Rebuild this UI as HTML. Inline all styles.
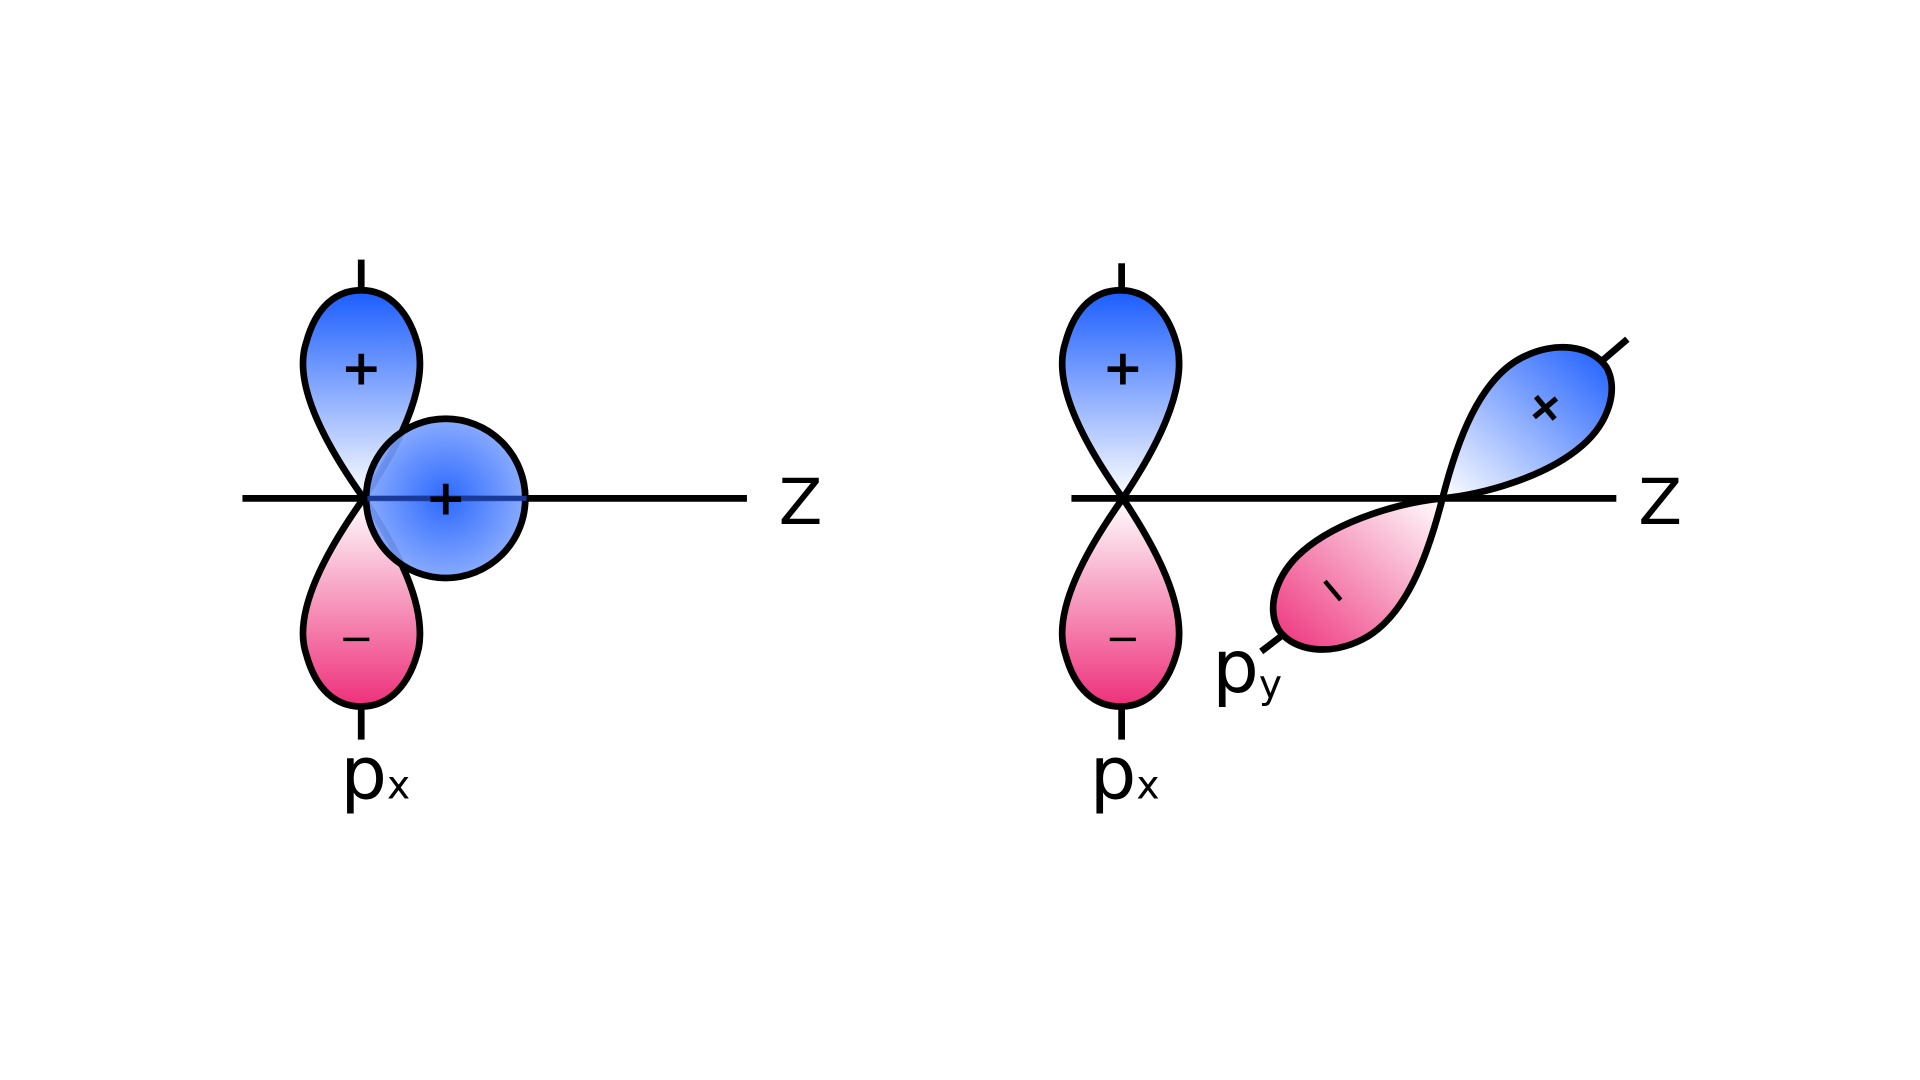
<!DOCTYPE html>
<html><head><meta charset="utf-8"><style>html,body{margin:0;padding:0;background:#fff}svg{display:block}</style></head><body>
<svg width="1920" height="1080" viewBox="0 0 1568 882" xmlns="http://www.w3.org/2000/svg">
<defs>
<linearGradient id="bl" x1="0" y1="0" x2="0" y2="1"><stop offset="0" stop-color="#1a5cff"/><stop offset="1" stop-color="#fff"/></linearGradient>
<linearGradient id="pkf" x1="0" y1="0" x2="0" y2="1"><stop offset="0" stop-color="#ee2f7a"/><stop offset="1" stop-color="#fff"/></linearGradient>
<linearGradient id="bl2" x1="1" y1="0" x2="0" y2="1"><stop offset="0" stop-color="#1a5cff"/><stop offset="1" stop-color="#fff"/></linearGradient>
<linearGradient id="pk2" x1="1" y1="0" x2="0" y2="1"><stop offset="0" stop-color="#fff"/><stop offset="1" stop-color="#ee2f7a"/></linearGradient>
<radialGradient id="rc"><stop offset="0" stop-color="#1a5cff"/><stop offset="1" stop-color="#7fa4ff"/></radialGradient>
<path id="lobe" d="M0,0 C-37,-52 -57,-97 -47,-127 C-39,-157 -22,-170 -2,-170 C21,-170 38,-152 45,-122 C51,-87 28,-42 0,0 Z"/>
</defs>
<g stroke="#000" stroke-width="5.5" fill="none">
<line x1="198" y1="407" x2="610" y2="407"/>
<line x1="295" y1="212" x2="295" y2="238"/>
<line x1="295" y1="578" x2="295" y2="604"/>
<use href="#lobe" transform="translate(297,407)" fill="url(#bl)"/>
<use href="#lobe" transform="translate(297,407) scale(1,-1)" fill="url(#pkf)"/>
<circle cx="364" cy="407" r="65" fill="url(#rc)" fill-opacity="0.92"/>
<line x1="300" y1="407" x2="430" y2="407" stroke="#1a3a9a" stroke-width="4"/>
<line x1="875" y1="407" x2="1320" y2="407"/>
<line x1="916" y1="215" x2="916" y2="238"/>
<line x1="916" y1="578" x2="916" y2="604"/>
<use href="#lobe" transform="translate(917,407)" fill="url(#bl)"/>
<use href="#lobe" transform="translate(917,407) scale(1,-1)" fill="url(#pkf)"/>
<path d="M1178,407 C1190,360 1208,310 1243,292 C1270,278 1300,282 1312,300 C1322,318 1314,345 1292,364 C1262,390 1210,404 1178,407 Z" fill="url(#bl2)"/>
<path d="M1178,407 C1166,454 1148,504 1113,522 C1086,536 1056,532 1044,514 C1034,496 1042,469 1064,450 C1094,424 1146,410 1178,407 Z" fill="url(#pk2)"/>
<line x1="1308" y1="295" x2="1329" y2="277"/>
<line x1="1047" y1="519" x2="1030" y2="532"/>
</g>
<g font-family="'DejaVu Sans','Liberation Sans',sans-serif" fill="#000">
<text x="295" y="314" font-size="40" font-weight="bold" text-anchor="middle">+</text>
<text x="364" y="420" font-size="40" font-weight="bold" text-anchor="middle">+</text>
<text x="291" y="533" font-size="34" text-anchor="middle">−</text>
<text x="917" y="314" font-size="40" font-weight="bold" text-anchor="middle">+</text>
<text x="917" y="533" font-size="34" text-anchor="middle">−</text>
<text x="1262" y="345" font-size="38" font-weight="bold" text-anchor="middle" transform="rotate(-40 1262 333)">+</text>
<text x="1090" y="493" font-size="32" font-weight="bold" text-anchor="middle" transform="rotate(50 1090 481)">−</text>
<text x="636" y="428" font-size="52">Z</text>
<text x="1338" y="428" font-size="52">Z</text>
<text x="278" y="652" font-size="60">p<tspan font-size="32">x</tspan></text>
<text x="890" y="652" font-size="60">p<tspan font-size="32">x</tspan></text>
<text x="990" y="565" font-size="60">p<tspan font-size="32" dy="5">y</tspan></text>
</g>
</svg>
</body></html>
